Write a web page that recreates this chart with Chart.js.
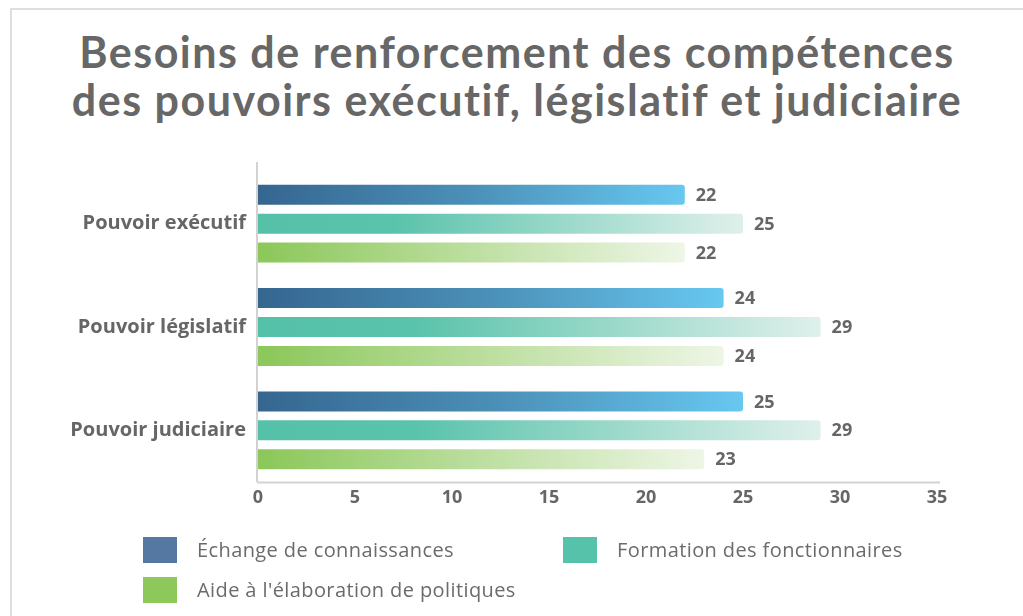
<!DOCTYPE html>
<html><head><meta charset="utf-8">
<script src="https://cdn.jsdelivr.net/npm/chart.js@4/dist/chart.umd.min.js"></script>
<style>
html,body{margin:0;padding:0;background:#fff;overflow:hidden;}
#wrap{position:relative;width:1023px;height:616px;}
#card{position:absolute;left:10px;top:8px;width:1100px;height:700px;border:2px solid #dedede;box-sizing:border-box;}
#title{position:absolute;left:0;width:1034px;top:28px;text-align:center;font-family:Lato,sans-serif;font-weight:700;font-size:43px;line-height:48px;letter-spacing:1.5px;color:#676767;}
#cv{position:absolute;left:0;top:0;}
#legend{position:absolute;left:143px;top:536px;width:820px;font-family:"Open Sans",sans-serif;font-size:20px;letter-spacing:0.4px;color:#6b6b6b;}
.li{position:absolute;display:flex;align-items:center;white-space:nowrap;}
.sw{width:34px;height:26px;margin-right:20px;}
</style></head>
<body><div id="wrap">
<div id="card"></div>
<div id="title">Besoins de renforcement des compétences<br>des pouvoirs exécutif, législatif et judiciaire</div>
<canvas id="cv" width="1023" height="616"></canvas>
<div id="legend"></div>
</div>
<script>
const categories = ["Pouvoir exécutif", "Pouvoir législatif", "Pouvoir judiciaire"];
const seriesNames = ["Échange de connaissances", "Formation des fonctionnaires", "Aide à l'élaboration de politiques"];
const echange = [22, 24, 25];
const formation = [25, 29, 29];
const aide = [22, 24, 23];
const xTicks = [0, 5, 10, 15, 20, 25, 30, 35];

const legendColors = ["#5578a3", "#57c2aa", "#8cc85a"];
const gradStops = [
  [[0, "#356690"], [0.5, "#4b90b8"], [1, "#67c8f0"]],
  [[0, "#55c1a8"], [0.28, "#5ac3ab"], [1, "#dff0eb"]],
  [[0, "#8bc759"], [1, "#eef6e6"]]
];

function makeGrad(i) {
  return function(ctx) {
    const chart = ctx.chart;
    if (!chart.chartArea || !chart.scales.x) return legendColors[i];
    const xs = chart.scales.x;
    const v = ctx.raw;
    if (v == null) return legendColors[i];
    const x0 = xs.getPixelForValue(0), x1 = xs.getPixelForValue(v);
    const g = chart.ctx.createLinearGradient(x0, 0, Math.max(x1, x0 + 1), 0);
    gradStops[i].forEach(s => g.addColorStop(s[0], s[1]));
    return g;
  };
}

const valueLabels = {
  id: "valueLabels",
  afterDatasetsDraw(chart) {
    const c = chart.ctx;
    c.save();
    c.font = "bold 18px 'Open Sans', sans-serif";
    c.fillStyle = "#666666";
    c.textBaseline = "middle";
    c.textAlign = "left";
    chart.data.datasets.forEach((ds, di) => {
      chart.getDatasetMeta(di).data.forEach((bar, j) => {
        c.fillText(String(ds.data[j]), bar.x + 11, bar.y + 1);
      });
    });
    c.restore();
  },
  beforeDatasetsDraw(chart) {
    const c = chart.ctx, a = chart.chartArea;
    c.save();
    c.strokeStyle = "#d2d2d2";
    c.lineWidth = 2;
    c.beginPath();
    c.moveTo(a.left - 1, a.top - 10);
    c.lineTo(a.left - 1, a.bottom);
    c.stroke();
    c.beginPath();
    c.moveTo(a.left - 1, a.bottom + 0.5);
    c.lineTo(a.right + 3, a.bottom + 0.5);
    c.stroke();
    c.restore();
  }
};

const data = [echange, formation, aide];
new Chart(document.getElementById("cv"), {
  type: "bar",
  data: {
    labels: categories,
    datasets: seriesNames.map((n, i) => ({
      label: n,
      data: data[i],
      backgroundColor: makeGrad(i),
      borderRadius: 3,
      borderSkipped: "start",
      categoryPercentage: 0.84,
      barPercentage: 0.69
    }))
  },
  options: {
    indexAxis: "y",
    responsive: false,
    animation: false,
    layout: { padding: { top: 172, right: 86, bottom: 104, left: 0 } },
    plugins: { legend: { display: false }, title: { display: false }, tooltip: { enabled: false } },
    scales: {
      x: {
        min: 0, max: 35,
        afterBuildTicks: s => { s.ticks = xTicks.map(v => ({ value: v })); },
        afterFit: s => { s.height = 30; },
        grid: { display: false, drawTicks: false },
        border: { display: false },
        ticks: { color: "#666666", font: { family: "'Open Sans', sans-serif", size: 18, weight: "bold" }, padding: 5 }
      },
      y: {
        afterFit: s => { s.width = 258; },
        grid: { display: false, drawTicks: false },
        border: { display: false },
        ticks: { color: "#666666", font: { family: "'Open Sans', sans-serif", size: 20, weight: "bold" }, padding: 12 }
      }
    }
  },
  plugins: [valueLabels]
});

const lg = document.getElementById("legend");
const pos = [[0, 0], [420, 0], [0, 40]];
seriesNames.forEach((n, i) => {
  const d = document.createElement("div");
  d.className = "li";
  d.style.left = pos[i][0] + "px";
  d.style.top = pos[i][1] + "px";
  d.innerHTML = '<span class="sw" style="background:' + legendColors[i] + '"></span><span></span>';
  d.lastChild.textContent = n;
  lg.appendChild(d);
});
</script>
</body></html>
